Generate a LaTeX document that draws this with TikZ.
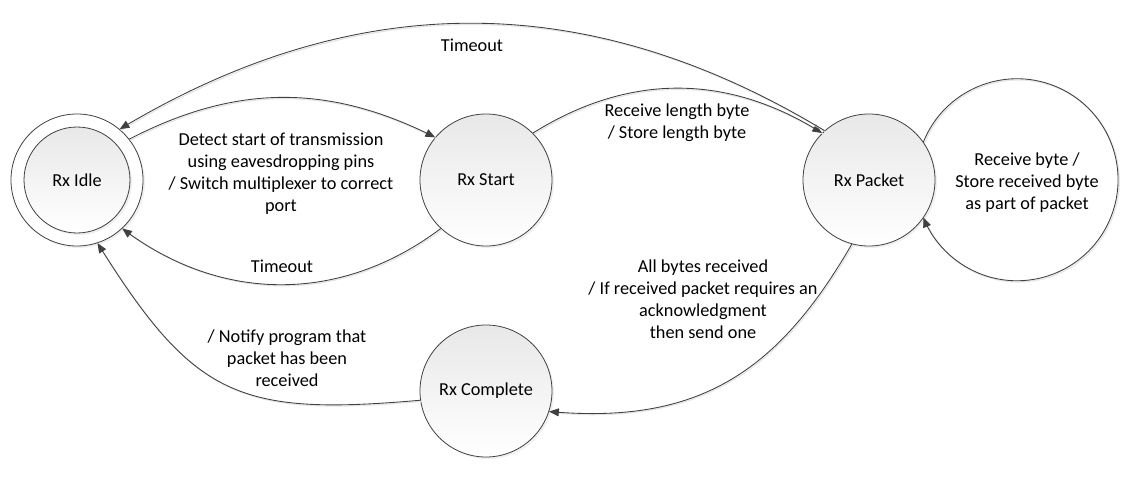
\documentclass[tikz,border=0pt]{standalone}
\usepackage{fontspec}
\setmainfont{Carlito}
\usepackage{xcolor}
\usetikzlibrary{arrows,shadows}
\definecolor{linegray}{HTML}{404040}

\begin{document}
\begin{tikzpicture}[x=0.75pt,y=0.75pt,
    state/.style={circle,draw=linegray,line width=0.6pt,inner sep=0pt,
        minimum size=99pt,top color=black!9,bottom color=white,
        font=\fontsize{13.7}{16.5}\selectfont,
        drop shadow={opacity=0.12,shadow xshift=1.5pt,shadow yshift=-1.5pt}},
    edge/.style={->,linegray,line width=0.65pt,
        preaction={draw=black!10,line width=0.9pt,-,
            transform canvas={xshift=0.9pt,yshift=-0.9pt}}},
    trans/.style={align=center,font=\fontsize{13.7}{16.5}\selectfont}]
\useasboundingbox (0,0) rectangle (1136,480);
\begin{scope}[>=triangle 45]

    \node[state,top color=white] (idle) at (77,300) {};
    \node[state,minimum size=79.5pt,drop shadow={opacity=0}] (idlein) at (77,300) {Rx Idle};
    \node[state] (start) at (486,300) {Rx Start};
    \node[state] (packet) at (869,300) {Rx Packet};
    \node[state] (complete) at (486,89) {Rx Complete};

    \draw[edge] (idle.38) to[bend left=27] (start.140);
    \draw[edge] (start.45) to[bend left=32] (packet.135);
    \draw[edge] (packet.132) to[bend right=31] (idle.50);
    \draw[edge] (start.227) to[bend left=37] (idle.-47);
    \draw[edge] (complete.188) to[out=185,in=-58,looseness=1.3] (idle.-72);
    \draw[edge] (packet.-105) to[out=240,in=-5,looseness=1.1] (complete.-18);
    \draw[edge] (packet.35) arc[start angle=158,end angle=-158,radius=101];

    \node[trans] (tdetect) at (281,306) {Detect start of transmission\\using eavesdropping pins\\/ Switch multiplexer to correct\\port};
    \node[trans] (ttimeouttop) at (472,435) {Timeout};
    \node[trans] (tlength) at (677,357) {Receive length byte\\/ Store length byte};
    \node[trans] (ttimeoutbot) at (282,214) {Timeout};
    \node[trans] (tbyte) at (1027,297) {Receive byte /\\Store received byte\\as part of packet};
    \node[trans] (tall) at (703,181) {All bytes received\\/ If received packet requires an\\acknowledgment\\then send one};
    \node[trans] (tnotify) at (287,122) {/ Notify program that\\packet has been\\received};

\end{scope}
\end{tikzpicture}
\end{document}
